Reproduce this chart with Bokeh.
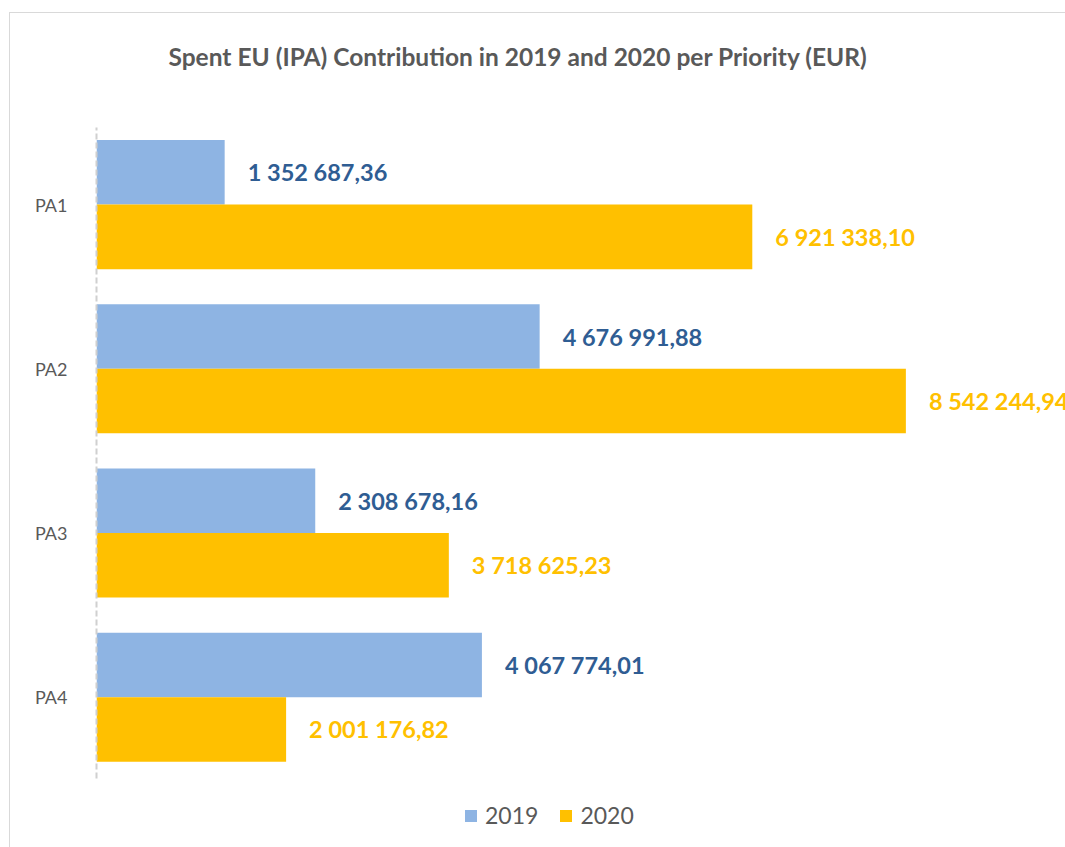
from bokeh.plotting import figure
from bokeh.models import (Range1d, Legend, LegendItem, Title, FixedTicker,
                          ColumnDataSource, InlineStyleSheet)
from bokeh.transform import dodge
from bokeh.core.properties import value
from bokeh.embed import file_html
from bokeh.resources import INLINE

# ---- data ----
priorities = ["PA1", "PA2", "PA3", "PA4"]
years = ["2019", "2020"]
values_2019 = [1352687.36, 4676991.88, 2308678.16, 4067774.01]
values_2020 = [6921338.10, 8542244.94, 3718625.23, 2001176.82]
title_text = "Spent EU (IPA) Contribution in 2019 and 2020 per Priority (EUR)"


def fmt(v):
    s = f"{v:,.2f}"
    return s.replace(",", " ").replace(".", ",")


FONT = "Lato"
GREY = "#595959"
BLUE_BAR = "#8EB4E3"
GOLD = "#FFC000"
BLUE_TXT = "#2F5D93"

n = len(priorities)
# category centres (PA1 on top); one unit per category
ycent = [n - 0.5 - i for i in range(n)]

src = ColumnDataSource(dict(
    pa=priorities,
    yc=ycent,
    v19=values_2019,
    v20=values_2020,
    t19=[fmt(v) for v in values_2019],
    t20=[fmt(v) for v in values_2020],
))

W, H = 1065, 847
left_px, top_px = 96, 122
band_px = 164.2
axis_top_px, axis_bottom_px = 127, 778
cat_bottom_px = top_px + n * band_px
px_per_unit = 94.75e-6
x_end = (W - left_px) / px_per_unit
y_start = -(H - cat_bottom_px) / band_px

css = InlineStyleSheet(css="""
:host { position: relative; overflow: hidden; }
:host::after {
  content: ""; position: absolute; left: 9px; top: 12px;
  width: 2000px; height: 2000px;
  border: 1.5px solid #D9D9D9; pointer-events: none; box-sizing: border-box;
}
""")

p = figure(width=W, height=H, output_backend="svg", toolbar_location=None,
           y_range=Range1d(y_start, n), x_range=Range1d(0, x_end),
           x_axis_location=None, title=None,
           min_border_left=left_px, min_border_right=0,
           min_border_top=top_px, min_border_bottom=0,
           stylesheets=[css])

p.outline_line_color = None
p.xgrid.visible = False
p.ygrid.visible = False
p.background_fill_color = "white"
p.border_fill_color = "white"

bh = 0.393
r19 = p.hbar(y=dodge("yc", bh / 2), left=0, right="v19",
             height=bh, color=BLUE_BAR, line_color=None, source=src)
r20 = p.hbar(y=dodge("yc", -bh / 2), left=0, right="v20",
             height=bh, color=GOLD, line_color=None, source=src)

p.text(x="v19", y=dodge("yc", bh / 2), text="t19", source=src,
       x_offset=23, text_baseline="middle", text_align="left",
       text_font=value(FONT), text_font_style="bold", text_font_size="23.5px",
       text_color=BLUE_TXT)
p.text(x="v20", y=dodge("yc", -bh / 2), text="t20", source=src,
       x_offset=23, text_baseline="middle", text_align="left",
       text_font=value(FONT), text_font_style="bold", text_font_size="23.5px",
       text_color=GOLD)

ax = p.yaxis[0]
ax.ticker = FixedTicker(ticks=ycent)
ax.major_label_overrides = {y: name for y, name in zip(ycent, priorities)}
ax.bounds = ((cat_bottom_px - axis_bottom_px) / band_px,
             n - (axis_top_px - top_px) / band_px)
ax.axis_line_color = "#D0D0D0"
ax.axis_line_width = 2
ax.axis_line_dash = "6 3"
ax.major_tick_line_color = None
ax.minor_tick_line_color = None
ax.major_tick_out = 0
ax.major_tick_in = 0
ax.major_label_standoff = 29
ax.major_label_text_font = FONT
ax.major_label_text_font_size = "18px"
ax.major_label_text_color = GREY

# spacer (nearest the frame) then the real title
spacer = Title(text="\u00a0", text_font=FONT, text_font_size="36px",
               text_color="white", standoff=0)
p.add_layout(spacer, "above")
t = Title(text=title_text, text_font=FONT, text_font_style="bold",
          text_font_size="24.5px", text_color=GREY, align="left",
          offset=72, standoff=12)
p.add_layout(t, "above")

legend = Legend(items=[LegendItem(label=years[0], renderers=[r19]),
                       LegendItem(label=years[1], renderers=[r20])],
                orientation="horizontal", location=(367, 18),
                label_text_font=FONT, label_text_font_size="23px",
                label_text_color=GREY, glyph_width=15, glyph_height=15,
                spacing=20, label_standoff=7, border_line_color=None,
                background_fill_alpha=0, padding=0, margin=0)
p.add_layout(legend)

open("out.html", "w").write(file_html(p, INLINE))
